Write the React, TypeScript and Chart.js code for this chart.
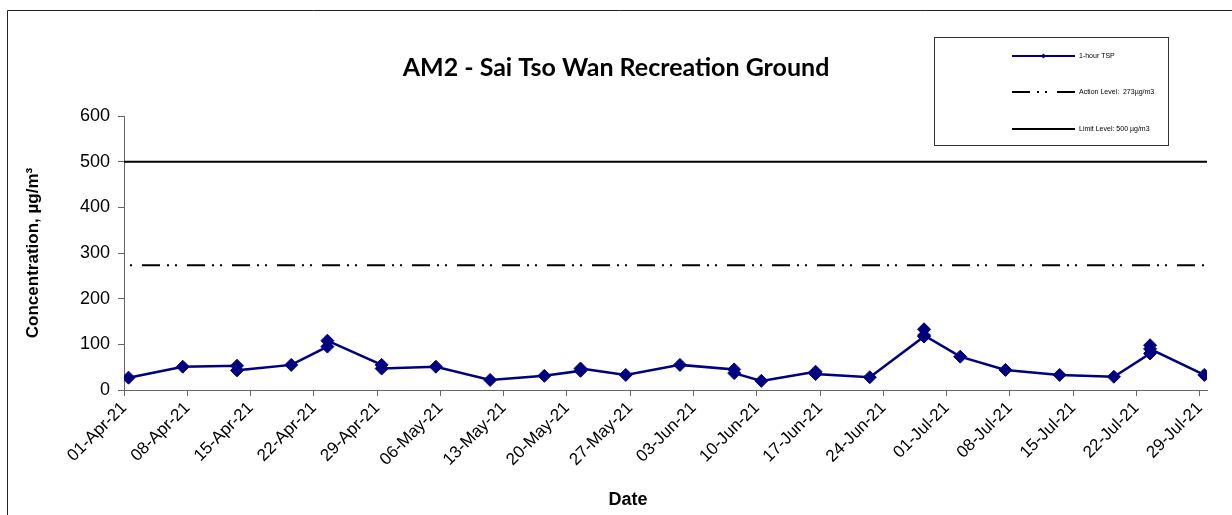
import React, { useEffect, useRef } from "react";
import { Chart, registerables } from "chart.js";

Chart.register(...registerables);

const CHART_TITLE = "AM2 - Sai Tso Wan Recreation Ground";
const Y_TITLE = "Concentration, µg/m³";
const X_TITLE = "Date";
const SERIES_LABEL = "1-hour TSP";
const ACTION_LABEL = "Action Level:  273µg/m3";
const LIMIT_LABEL = "Limit Level: 500 µg/m3";

const START_DATE = "2021-04-01";
const TICK_LABELS = [
  "01-Apr-21", "08-Apr-21", "15-Apr-21", "22-Apr-21", "29-Apr-21", "06-May-21",
  "13-May-21", "20-May-21", "27-May-21", "03-Jun-21", "10-Jun-21", "17-Jun-21",
  "24-Jun-21", "01-Jul-21", "08-Jul-21", "15-Jul-21", "22-Jul-21", "29-Jul-21",
];

const SAMPLE_DATES = [
  "2021-04-01", "2021-04-07", "2021-04-13", "2021-04-19", "2021-04-23", "2021-04-29",
  "2021-05-05", "2021-05-11", "2021-05-17", "2021-05-21", "2021-05-26", "2021-06-01",
  "2021-06-07", "2021-06-10", "2021-06-16", "2021-06-22", "2021-06-28", "2021-07-02",
  "2021-07-07", "2021-07-13", "2021-07-19", "2021-07-23", "2021-07-29",
];
const TSP_VALUES: number[][] = [
  [27], [51], [53, 43], [55], [95, 108], [55, 47],
  [51], [22], [31], [42, 47], [33], [55],
  [45, 37], [20], [40, 35], [28], [117, 133, 120], [73],
  [44], [33], [29], [80, 98, 90], [33],
];

const ACTION_LEVEL = 273;
const LIMIT_LEVEL = 500;
const Y_MIN = 0;
const Y_MAX = 600;
const Y_STEP = 100;

function dayOffset(iso: string): number {
  const [y, m, d] = iso.split("-").map(Number);
  const [y0, m0, d0] = START_DATE.split("-").map(Number);
  return (Date.UTC(y, m - 1, d) - Date.UTC(y0, m0 - 1, d0)) / 86400000;
}

const X_MAX = dayOffset("2021-07-29") + 0.8;

const FONT = "'Liberation Sans', Arial, sans-serif";

const decorPlugin = {
  id: "decor",
  afterDraw(chart: any) {
    const ctx = chart.ctx as CanvasRenderingContext2D;
    const area = chart.chartArea;
    ctx.save();
    // outer frame
    ctx.strokeStyle = "#222";
    ctx.lineWidth = 1;
    ctx.beginPath();
    ctx.moveTo(7.5, chart.height);
    ctx.lineTo(7.5, 10.5);
    ctx.lineTo(chart.width, 10.5);
    ctx.stroke();

    // title
    ctx.fillStyle = "#000";
    ctx.font = "bold 25px Lato, 'Open Sans', sans-serif";
    ctx.textAlign = "center";
    ctx.textBaseline = "middle";
    ctx.fillText(CHART_TITLE, 616, 68);

    // y title
    ctx.save();
    ctx.translate(33, (area.top + area.bottom) / 2);
    ctx.rotate(-Math.PI / 2);
    ctx.font = `bold 17px ${FONT}`;
    ctx.fillText(Y_TITLE, 0, 0);
    ctx.restore();

    // x title
    ctx.font = `bold 18px ${FONT}`;
    ctx.fillText(X_TITLE, 628, 500);

    // legend box
    const bx = 934.5, by = 37.5, bw = 234, bh = 108;
    ctx.strokeStyle = "#333";
    ctx.lineWidth = 1;
    ctx.strokeRect(bx, by, bw, bh);
    const lx0 = 1012, lx1 = 1075, tx = 1079;
    const rows = [56, 92, 129];
    ctx.textAlign = "left";
    ctx.font = `7px ${FONT}`;
    // series
    ctx.strokeStyle = "#000080";
    ctx.lineWidth = 2;
    ctx.beginPath();
    ctx.moveTo(lx0, rows[0]);
    ctx.lineTo(lx1, rows[0]);
    ctx.stroke();
    ctx.fillStyle = "#000080";
    ctx.beginPath();
    const cx = (lx0 + lx1) / 2;
    ctx.moveTo(cx - 2.5, rows[0]);
    ctx.lineTo(cx, rows[0] - 2.5);
    ctx.lineTo(cx + 2.5, rows[0]);
    ctx.lineTo(cx, rows[0] + 2.5);
    ctx.closePath();
    ctx.fill();
    ctx.fillStyle = "#000";
    ctx.fillText(SERIES_LABEL, tx, rows[0]);
    // action
    ctx.strokeStyle = "#000";
    ctx.lineWidth = 2;
    ctx.setLineDash([18, 7, 2, 6, 2, 10]);
    ctx.beginPath();
    ctx.moveTo(lx0, rows[1]);
    ctx.lineTo(lx1, rows[1]);
    ctx.stroke();
    ctx.setLineDash([]);
    ctx.fillText(ACTION_LABEL, tx, rows[1]);
    // limit
    ctx.beginPath();
    ctx.moveTo(lx0, rows[2]);
    ctx.lineTo(lx1, rows[2]);
    ctx.stroke();
    ctx.fillText(LIMIT_LABEL, tx, rows[2]);
    ctx.restore();
  },
};

export default function App() {
  const ref = useRef<HTMLCanvasElement | null>(null);

  useEffect(() => {
    if (!ref.current) return;
    const tspPoints: { x: number; y: number }[] = [];
    SAMPLE_DATES.forEach((d, i) => {
      const x = dayOffset(d) + 0.5;
      TSP_VALUES[i].forEach((v) => tspPoints.push({ x, y: v }));
    });

    const chart = new Chart(ref.current, {
      type: "line",
      data: {
        datasets: [
          {
            label: SERIES_LABEL,
            data: tspPoints,
            borderColor: "#000080",
            backgroundColor: "#000080",
            borderWidth: 2.5,
            pointStyle: "rectRot",
            pointRadius: 6.5,
            pointBorderWidth: 1,
            pointBackgroundColor: "#000080",
            pointBorderColor: "#000080",
            tension: 0,
          },
          {
            label: ACTION_LABEL,
            data: [
              { x: 0, y: ACTION_LEVEL },
              { x: X_MAX, y: ACTION_LEVEL },
            ],
            borderColor: "#000",
            borderWidth: 2,
            borderDash: [18, 7, 2, 6, 2, 10],
            borderDashOffset: 27,
            pointRadius: 0,
          },
          {
            label: LIMIT_LABEL,
            data: [
              { x: 0, y: LIMIT_LEVEL },
              { x: X_MAX, y: LIMIT_LEVEL },
            ],
            borderColor: "#000",
            borderWidth: 2,
            pointRadius: 0,
          },
        ],
      },
      options: {
        responsive: false,
        animation: false,
        layout: { padding: { top: 116, right: 25, bottom: 0, left: 0 } },
        plugins: {
          legend: { display: false },
          title: { display: false },
          tooltip: { enabled: false },
        },
        scales: {
          x: {
            type: "linear",
            min: 0,
            max: X_MAX,
            afterBuildTicks: (scale: any) => {
              scale.ticks = TICK_LABELS.map((_, i) => ({ value: i * 7 }));
            },
            afterFit: (scale: any) => {
              scale.height = 125;
            },
            grid: {
              drawOnChartArea: false,
              drawTicks: true,
              tickLength: 6,
              color: "#666",
            },
            border: { display: true, color: "#666", width: 1 },
            ticks: {
              autoSkip: false,
              maxRotation: 45,
              minRotation: 45,
              padding: 2,
              color: "#000",
              font: { family: FONT, size: 17 },
              callback: (_v: any, i: number) => TICK_LABELS[i],
            },
          },
          y: {
            min: Y_MIN,
            max: Y_MAX,
            afterFit: (scale: any) => {
              scale.width = 124;
            },
            grid: {
              drawOnChartArea: false,
              drawTicks: true,
              tickLength: 6,
              color: "#666",
            },
            border: { display: true, color: "#666", width: 1 },
            ticks: {
              stepSize: Y_STEP,
              padding: 8,
              color: "#000",
              font: { family: FONT, size: 18 },
            },
          },
        },
      },
      plugins: [decorPlugin],
    } as any);
    return () => chart.destroy();
  }, []);

  return (
    <div style={{ position: "absolute", left: 0, top: 0, width: 1232, height: 515, background: "#fff" }}>
      <canvas ref={ref} width={1232} height={515} style={{ display: "block" }} />
    </div>
  );
}
